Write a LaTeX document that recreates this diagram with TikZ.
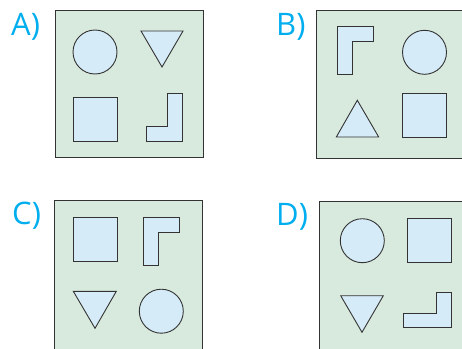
\documentclass[tikz,border=0pt]{standalone}
\usepackage{fontspec}
\setmainfont{Open Sans}
\definecolor{panelgreen}{HTML}{D8EADD}
\definecolor{shapeblue}{HTML}{D5EBF8}
\definecolor{edgegray}{HTML}{333333}
\definecolor{labelcyan}{HTML}{00AEEF}
\begin{document}
\begin{tikzpicture}[x=1pt, y=-1pt,
    panel/.style={draw=edgegray, fill=panelgreen, line width=0.9pt},
    piece/.style={draw=edgegray, fill=shapeblue, line width=0.9pt, line join=miter},
    lbl/.style={text=labelcyan, font=\fontsize{31}{31}\selectfont, inner sep=0pt, anchor=base west}]
    \useasboundingbox (0,0) rectangle (462,348);
    \clip (0,0) rectangle (462,348);

    % A)
    \node[lbl] (labA) at (11,35) {A)};
    \draw[panel] (55.5,10) rectangle (203,157.5);
    \draw[piece] (95,52) circle (22);
    \draw[piece] (141,31) -- (183,31) -- (162,67) -- cycle;
    \draw[piece] (73,97.7) rectangle (117,141);
    \draw[piece] (167,93.7) -- (182,93.7) -- (182,141) -- (146.7,141) -- (146.7,126.7) -- (167,126.7) -- cycle;

    % B)
    \node[lbl] (labB) at (276,35) {B)};
    \draw[panel] (316.3,10.7) rectangle (470,158);
    \draw[piece] (337.7,26.7) -- (373.3,26.7) -- (373.3,41.3) -- (352.3,41.3) -- (352.3,74.3) -- (337.7,74.3) -- cycle;
    \draw[piece] (424.5,52.3) circle (22);
    \draw[piece] (357.3,100.3) -- (378.7,137) -- (336.3,137) -- cycle;
    \draw[piece] (402.7,93.7) rectangle (446.3,137);

    % C)
    \node[lbl] (labC) at (12,224) {C)};
    \draw[panel] (54,200.7) rectangle (202,360);
    \draw[piece] (73.3,217.3) rectangle (117.3,261.3);
    \draw[piece] (143.7,217.3) -- (179,217.3) -- (179,232.3) -- (158.3,232.3) -- (158.3,265.3) -- (143.7,265.3) -- cycle;
    \draw[piece] (73.3,291.3) -- (116.3,291.3) -- (95,328.3) -- cycle;
    \draw[piece] (161.3,311.2) circle (22);

    % D)
    \node[lbl] (labD) at (276,225) {D)};
    \draw[panel] (319.7,201.3) rectangle (470,360);
    \draw[piece] (362.3,240.7) circle (22);
    \draw[piece] (407.3,218.7) rectangle (451.3,262.7);
    \draw[piece] (340.7,295.7) -- (383.3,295.7) -- (362,332.3) -- cycle;
    \draw[piece] (436.3,292.3) -- (451.3,292.3) -- (451.3,327.7) -- (403,327.7) -- (403,313.3) -- (436.3,313.3) -- cycle;
\end{tikzpicture}
\end{document}
